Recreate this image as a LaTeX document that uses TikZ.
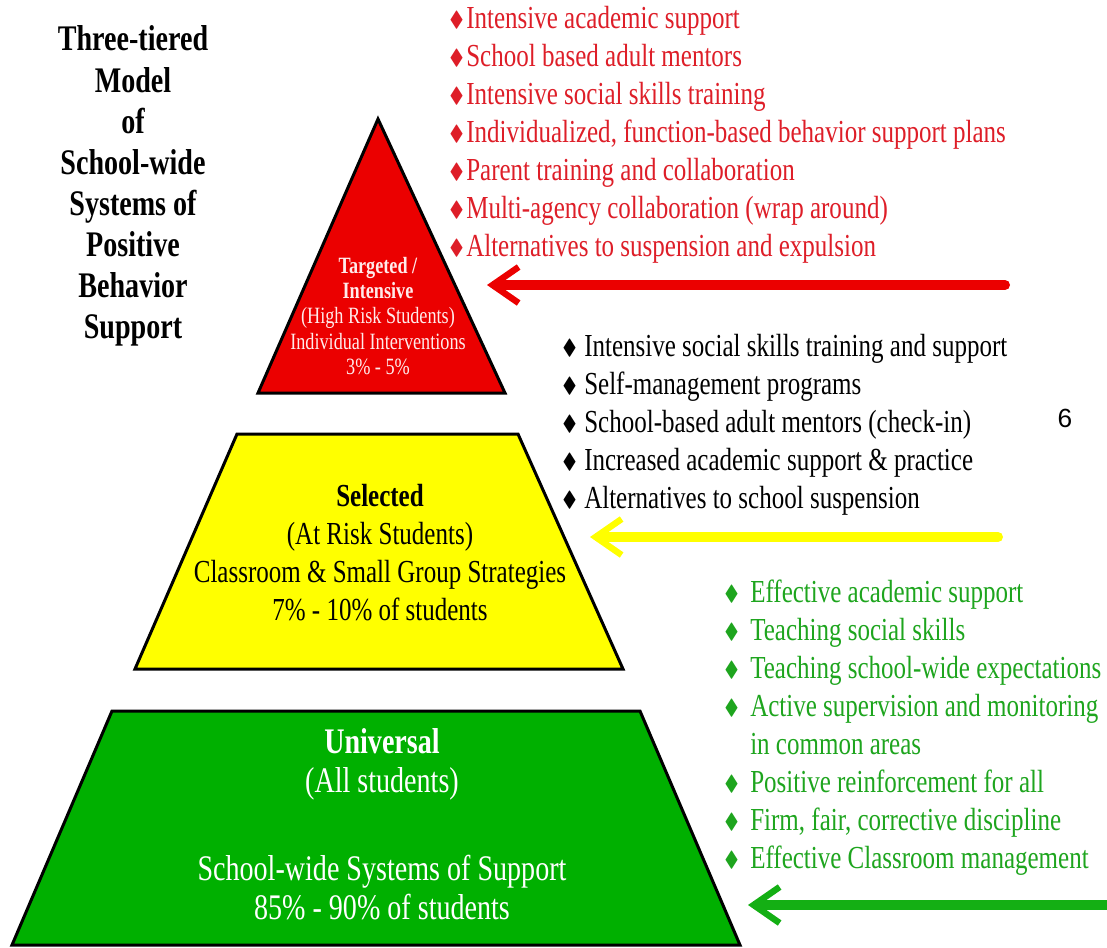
\documentclass[tikz,border=0pt]{standalone}
\usepackage{amssymb}
\usepackage{fontspec}
\setmainfont{Liberation Serif}[FakeStretch=0.78]
\newfontfamily\pagenumfont{Liberation Sans}
\usetikzlibrary{arrows.meta}
\definecolor{tierred}{RGB}{235,0,0}
\definecolor{tieryellow}{RGB}{255,255,0}
\definecolor{tiergreen}{RGB}{0,176,0}
\definecolor{listred}{RGB}{222,30,40}
\definecolor{listgreen}{RGB}{30,165,30}
\definecolor{arrowgreen}{RGB}{20,175,20}
\definecolor{paletext}{RGB}{255,235,235}
\newlength{\px}\setlength{\px}{0.025cm}
\newcommand{\bul}[1]{\makebox[#1\px][l]{\raisebox{0.08em}{\scalebox{0.68}{$\blacklozenge$}}}}

\begin{document}
\begin{tikzpicture}[x=0.025cm, y=-0.025cm,
        tier/.style={draw=black, line width=3\px},
        tiertxt/.style={align=center, inner sep=0pt},
        bullist/.style={align=left, anchor=west, inner sep=0pt, font=\fontsize{22.8}{27}\selectfont},
        ptr/.style={line width=10\px, line cap=round, -{Straight Barb[length=0.65cm, width=0.9cm, line width=0.16cm]}}
    ]
    \useasboundingbox (0,0) rectangle (1107,948);
    \fill[white] (0,0) rectangle (1107,948);

    \draw[tier, fill=tierred]    (378,119) -- (505,393) -- (258,393) -- cycle;
    \draw[tier, fill=tieryellow] (237,434) -- (518,434) -- (623,669) -- (135,669) -- cycle;
    \draw[tier, fill=tiergreen]  (112,711) -- (640,711) -- (740,945) -- (12,945) -- cycle;

    \node[tiertxt, font=\bfseries\fontsize{25.6}{29.2}\selectfont] (title) at (133,186)
        {Three-tiered\\Model\\of\\School-wide\\Systems of\\Positive\\Behavior\\Support};

    \node[tiertxt, text=paletext, font=\fontsize{16.6}{18.1}\selectfont] (toptxt) at (378,316)
        {\textbf{Targeted /}\\\textbf{Intensive}\\(High Risk Students)\\Individual Interventions\\3\% - 5\%};
    \node[tiertxt, font=\fontsize{22.8}{27}\selectfont] (midtxt) at (380,553)
        {\textbf{Selected}\\(At Risk Students)\\Classroom \& Small Group Strategies\\7\% - 10\% of students};
    \node[tiertxt, text=white, font=\fontsize{25.6}{27.7}\selectfont] (bottxt) at (382,824)
        {\textbf{Universal}\\(All students)\\[35pt]School-wide Systems of Support\\85\% - 90\% of students};

    \node[bullist, text=listred] (redlist) at (449,135)
        {\bul{17}Intensive academic support\\
         \bul{17}School based adult mentors\\
         \bul{17}Intensive social skills training\\
         \bul{17}Individualized, function-based behavior support plans\\
         \bul{17}Parent training and collaboration\\
         \bul{17}Multi-agency collaboration (wrap around)\\
         \bul{17}Alternatives to suspension and expulsion};
    \node[bullist] (blacklist) at (562,425)
        {\bul{22}Intensive social skills training and support\\
         \bul{22}Self-management programs\\
         \bul{22}School-based adult mentors (check-in)\\
         \bul{22}Increased academic support \& practice\\
         \bul{22}Alternatives to school suspension};
    \node[bullist, text=listgreen] (greenlist) at (724,728)
        {\bul{26}Effective academic support\\
         \bul{26}Teaching social skills\\
         \bul{26}Teaching school-wide expectations\\
         \bul{26}Active supervision and monitoring\\
         \hspace*{26\px}in common areas\\
         \bul{26}Positive reinforcement for all\\
         \bul{26}Firm, fair, corrective discipline\\
         \bul{26}Effective Classroom management};

    \node[inner sep=0pt, font=\pagenumfont\fontsize{18.7}{20}\selectfont] (pagenum) at (1065,418) {6};

    \coordinate (redtail) at (1005,285);
    \coordinate (redtip) at (487,285);
    \coordinate (yellowtail) at (998,537);
    \coordinate (yellowtip) at (590,537);
    \coordinate (greentail) at (1115,905);
    \coordinate (greentip) at (748,905);
    \draw[ptr, draw=tierred] (redtail) -- (redtip);
    \draw[ptr, draw=tieryellow] (yellowtail) -- (yellowtip);
    \draw[ptr, draw=arrowgreen] (greentail) -- (greentip);
\end{tikzpicture}
\end{document}
